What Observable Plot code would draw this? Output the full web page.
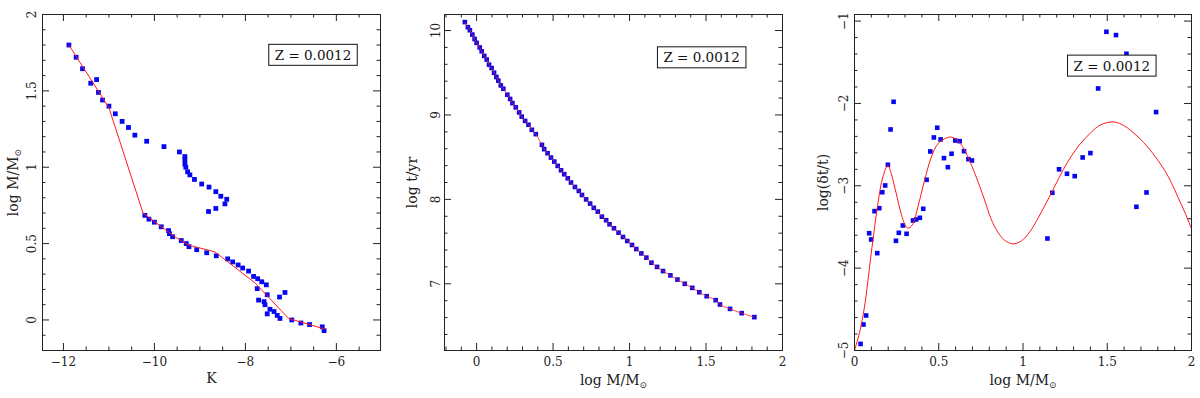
<!DOCTYPE html>
<html><head><meta charset="utf-8">
<script src="https://cdn.jsdelivr.net/npm/d3@7"></script>
<script src="https://cdn.jsdelivr.net/npm/@observablehq/plot@0.6"></script>
<style>
body{margin:0;background:#fff;}
#wrap{position:relative;width:1200px;height:398px;overflow:hidden;}
#wrap > svg{position:absolute;top:0;}
</style></head><body><div id="wrap"></div>
<script>
// ---------- Panel 1: log M/Msun vs K ----------
const p1K = [-11.88,-11.72,-11.58,-11.40,-11.27,-11.23,-11.14,-11.00,-10.86,-10.71,-10.57,-10.43,-10.17,-9.79,-9.45,-9.33,-9.33,-9.33,-9.31,-9.27,-9.22,-9.12,-8.96,-8.80,-8.65,-8.54,-8.41,-8.45,-8.65,-8.81,
  -10.21,-10.12,-10.00,-9.85,-9.69,-9.67,-9.60,-9.41,-9.30,-9.24,-9.07,-8.85,-8.64,-8.39,-8.28,-8.16,-8.06,-7.93,-7.82,-7.73,-7.64,-7.54,-7.74,-7.52,-7.25,-7.13,-7.71,-7.59,-7.57,-7.46,-7.52,-7.37,-7.30,-7.24,-6.98,-6.78,-6.59,-6.31,-6.27];
const p1M = [1.80,1.72,1.645,1.55,1.574,1.49,1.44,1.40,1.35,1.30,1.26,1.21,1.17,1.135,1.10,1.07,1.05,1.02,1.00,0.97,0.95,0.92,0.89,0.87,0.84,0.81,0.79,0.76,0.73,0.71,
  0.685,0.66,0.64,0.61,0.585,0.565,0.545,0.52,0.50,0.48,0.46,0.44,0.42,0.40,0.38,0.36,0.34,0.32,0.285,0.27,0.25,0.23,0.205,0.165,0.15,0.18,0.13,0.12,0.10,0.07,0.04,0.055,0.03,0.01,0.0,-0.02,-0.03,-0.045,-0.07];
const p1LineK = [-11.88,-11.0,-10.25,-9.55,-9.25,-8.67,-7.79,-7.05,-6.25];
const p1LineM = [1.80,1.39,0.70,0.545,0.49,0.446,0.243,0.01,-0.06];

// ---------- Panel 2: log t/yr vs log M ----------
const p2M = [-0.077,-0.057,-0.044,-0.028,-0.013,0.0,0.020,0.033,0.050,0.066,0.081,0.098,0.114,0.129,0.142,0.158,0.175,0.201,0.219,0.234,0.256,0.278,0.295,0.317,0.339,0.361,0.387,0.427,0.442,0.464,0.486,0.508,0.530,0.552,0.573,0.596,0.617,0.643,0.668,0.689,0.716,0.742,0.766,0.792,0.819,0.847,0.869,0.898,0.928,0.957,0.985,1.016,1.044,1.077,1.110,1.143,1.180,1.219,1.267,1.313,1.361,1.410,1.456,1.504,1.563,1.591,1.657,1.733,1.816];
const p2T = [10.10,10.04,10.004,9.952,9.90,9.854,9.80,9.754,9.70,9.656,9.596,9.556,9.50,9.45,9.406,9.35,9.31,9.24,9.19,9.14,9.09,9.03,8.98,8.93,8.884,8.824,8.773,8.646,8.595,8.547,8.495,8.448,8.397,8.345,8.298,8.25,8.20,8.147,8.10,8.052,8.00,7.95,7.90,7.855,7.795,7.753,7.705,7.658,7.606,7.555,7.507,7.46,7.412,7.36,7.31,7.25,7.20,7.151,7.10,7.05,7.00,6.952,6.90,6.853,6.806,6.755,6.703,6.652,6.605];

// ---------- Panel 3: log(dt/t) vs log M ----------
const p3M = [0.036,0.053,0.069,0.087,0.099,0.119,0.135,0.147,0.165,0.182,0.198,0.214,0.232,0.246,0.263,0.287,0.309,0.347,0.366,0.388,0.408,0.428,0.450,0.471,0.491,0.511,0.531,0.554,0.576,0.598,0.624,0.650,0.676,0.697,1.145,1.174,1.214,1.261,1.307,1.354,1.400,1.446,1.495,1.552,1.614,1.673,1.733,1.790];
const p3D = [-4.92,-4.684,-4.575,-3.576,-3.652,-3.308,-3.818,-3.272,-3.078,-2.996,-2.745,-2.316,-1.98,-3.668,-3.571,-3.482,-3.583,-3.421,-3.409,-3.389,-3.279,-2.927,-2.583,-2.413,-2.295,-2.437,-2.664,-2.774,-2.611,-2.45,-2.458,-2.58,-2.677,-2.693,-3.64,-3.085,-2.80,-2.854,-2.883,-2.656,-2.603,-1.818,-1.13,-1.17,-1.397,-3.255,-3.081,-2.105];
const p3CurveM = [0,0.03,0.059,0.099,0.139,0.168,0.198,0.218,0.248,0.277,0.307,0.323,0.347,0.376,0.416,0.456,0.495,0.535,0.570,0.60,0.64,0.68,0.72,0.77,0.81,0.85,0.89,0.94,0.99,1.04,1.09,1.14,1.19,1.24,1.29,1.34,1.40,1.46,1.54,1.60,1.64,1.69,1.74,1.79,1.84,1.88,1.92,1.96,2.00];
const p3CurveD = [-5.0,-4.78,-4.474,-3.825,-3.217,-2.894,-2.752,-2.853,-3.096,-3.339,-3.50,-3.514,-3.46,-3.258,-2.934,-2.65,-2.49,-2.428,-2.408,-2.43,-2.52,-2.68,-2.88,-3.16,-3.40,-3.56,-3.66,-3.705,-3.67,-3.56,-3.39,-3.20,-3.00,-2.80,-2.63,-2.49,-2.36,-2.26,-2.225,-2.27,-2.33,-2.42,-2.53,-2.66,-2.81,-2.96,-3.14,-3.32,-3.52];

// ---------- axes ----------
const p1XTicks = [-12,-10,-8,-6];
const p1YTicks = [0,0.5,1,1.5,2];
const p2XTicks = [0,0.5,1,1.5,2];
const p2YTicks = [7,8,9,10];
const p3XTicks = [0,0.5,1,1.5,2];
const p3YTicks = [-5,-4,-3,-2,-1];
const legendText = "Z = 0.0012";

const FONT = "'DejaVu Serif', 'Liberation Serif', serif";
const BLUE = "#0606f2", RED = "#ff1a1a", INK = "#222";
const fmt = d => (d < 0 ? "\u2212" : "") + Math.abs(d);
const zip = (a, b) => a.map((v, i) => ({x: v, y: b[i]}));

function minorTicks(domain, step, majors) {
  const out = [];
  const start = Math.ceil(domain[0] / step - 1e-9);
  const end = Math.floor(domain[1] / step + 1e-9);
  for (let k = start; k <= end; k++) {
    const v = +(k * step).toFixed(6);
    if (!majors.some(m => Math.abs(m - v) < 1e-6)) out.push(v);
  }
  return out;
}

function panel(o) {
  const H = 398, mT = 14, mB = 48, W = 400;
  const ph = H - mT - mB, pw = W - o.mL - o.mR;
  const MAJ = 7, MIN = 3.5;
  const xMin = minorTicks(o.xDomain, o.xStep, o.xTicks);
  const yMin = minorTicks(o.yDomain, o.yStep, o.yTicks);
  const ticks = [];
  for (const [vals, len] of [[o.xTicks, MAJ], [xMin, MIN]]) {
    ticks.push(Plot.tickX(vals, {x: d => d, insetTop: ph - len, stroke: INK}));
    ticks.push(Plot.tickX(vals, {x: d => d, insetBottom: ph - len, stroke: INK}));
  }
  for (const [vals, len] of [[o.yTicks, MAJ], [yMin, MIN]]) {
    ticks.push(Plot.tickY(vals, {y: d => d, insetRight: pw - len, stroke: INK}));
    ticks.push(Plot.tickY(vals, {y: d => d, insetLeft: pw - len, stroke: INK}));
  }
  const svg = Plot.plot({
    width: W, height: H,
    marginLeft: o.mL, marginRight: o.mR, marginTop: mT, marginBottom: mB,
    style: {fontFamily: FONT, fontSize: "12px", background: "white", color: INK},
    x: {domain: o.xDomain, axis: null},
    y: {domain: o.yDomain, axis: null},
    marks: [
      ...o.marks,
      ...ticks,
      Plot.frame({stroke: INK, strokeWidth: 1}),
      Plot.text(o.xTicks, {x: d => d, frameAnchor: "bottom", dy: 12, text: fmt, fontSize: 12, lineAnchor: "middle", fill: INK}),
      Plot.text(o.yTicks, {y: d => d, frameAnchor: "left", dx: o.yLabelDx, rotate: -90, text: fmt, fontSize: 12, textAnchor: "middle", lineAnchor: "middle", fill: INK}),
      Plot.text([o.xTitle], {frameAnchor: "bottom", dy: o.xTitleDy, text: d => d, fontSize: 14, lineAnchor: "middle", fill: INK}),
      Plot.text([o.yTitle], {frameAnchor: "left", dx: o.yTitleDx, rotate: -90, text: d => d, fontSize: 14, textAnchor: "middle", lineAnchor: "middle", fill: INK}),
      Plot.text([legendText], {frameAnchor: "top-right", dx: o.legDx, dy: o.legDy, text: d => d, fontSize: 13.5, textAnchor: "middle", lineAnchor: "middle", fill: "#111", className: "zlabel"})
    ]
  });
  svg.style.left = o.left + "px";
  document.getElementById("wrap").appendChild(svg);
  // subscript sun symbol
  svg.querySelectorAll("text").forEach(t => {
    const s = t.textContent;
    if (s.endsWith("\u2299")) {
      t.textContent = "";
      const a = document.createElementNS("http://www.w3.org/2000/svg", "tspan");
      a.textContent = s.slice(0, -1);
      const b = document.createElementNS("http://www.w3.org/2000/svg", "tspan");
      b.textContent = "\u2299";
      b.setAttribute("font-size", "9");
      b.setAttribute("dy", "3");
      t.appendChild(a); t.appendChild(b);
    }
  });
  // legend box
  svg.querySelectorAll(".zlabel text").forEach(t => {
    const bb = t.getBBox();
    const r = document.createElementNS("http://www.w3.org/2000/svg", "rect");
    r.setAttribute("x", bb.x - 6); r.setAttribute("y", bb.y - 2.5);
    r.setAttribute("width", bb.width + 12); r.setAttribute("height", bb.height + 5);
    r.setAttribute("fill", "white"); r.setAttribute("stroke", "#111"); r.setAttribute("stroke-width", "1");
    if (t.getAttribute("transform")) r.setAttribute("transform", t.getAttribute("transform"));
    t.parentNode.insertBefore(r, t);
  });
}

const SUN = "log M/M\u2299";

panel({
  left: 0, mL: 42, mR: 20,
  xDomain: [-12.46, -5.03], yDomain: [-0.2, 2],
  xTicks: p1XTicks, yTicks: p1YTicks, xStep: 0.5, yStep: 0.1,
  xTitle: "K", yTitle: SUN,
  yLabelDx: -10, yTitleDx: -29, xTitleDy: 28,
  legDx: -67.5, legDy: 41,
  marks: [
    Plot.dot(zip(p1K, p1M), {x: "x", y: "y", symbol: "square", r: 2.7, fill: BLUE, stroke: "none"}),
    Plot.line(zip(p1LineK, p1LineM), {x: "x", y: "y", stroke: RED, strokeWidth: 1})
  ]
});

panel({
  left: 400, mL: 44, mR: 18,
  xDomain: [-0.21, 2], yDomain: [6.21, 10.19],
  xTicks: p2XTicks, yTicks: p2YTicks, xStep: 0.1, yStep: 0.2,
  xTitle: SUN, yTitle: "log t/yr",
  yLabelDx: -8, yTitleDx: -31.5, xTitleDy: 30,
  legDx: -80.8, legDy: 43.5,
  marks: [
    Plot.dot(zip(p2M, p2T), {x: "x", y: "y", symbol: "square", r: 2.6, fill: BLUE, stroke: "none"}),
    Plot.line(zip(p2M, p2T), {x: "x", y: "y", stroke: RED, strokeWidth: 1, strokeOpacity: 0.8, curve: "catmull-rom"})
  ]
});

panel({
  left: 800, mL: 54, mR: 9,
  xDomain: [0, 2], yDomain: [-5, -0.92],
  xTicks: p3XTicks, yTicks: p3YTicks, xStep: 0.1, yStep: 0.2,
  xTitle: SUN, yTitle: "log(\u03b4t/t)",
  yLabelDx: -10.5, yTitleDx: -30.5, xTitleDy: 30.5,
  legDx: -79.7, legDy: 51.8,
  marks: [
    Plot.dot(zip(p3M, p3D), {x: "x", y: "y", symbol: "square", r: 2.6, fill: BLUE, stroke: "none"}),
    Plot.line(zip(p3CurveM, p3CurveD), {x: "x", y: "y", stroke: RED, strokeWidth: 1, curve: "catmull-rom"})
  ]
});
</script></body></html>
